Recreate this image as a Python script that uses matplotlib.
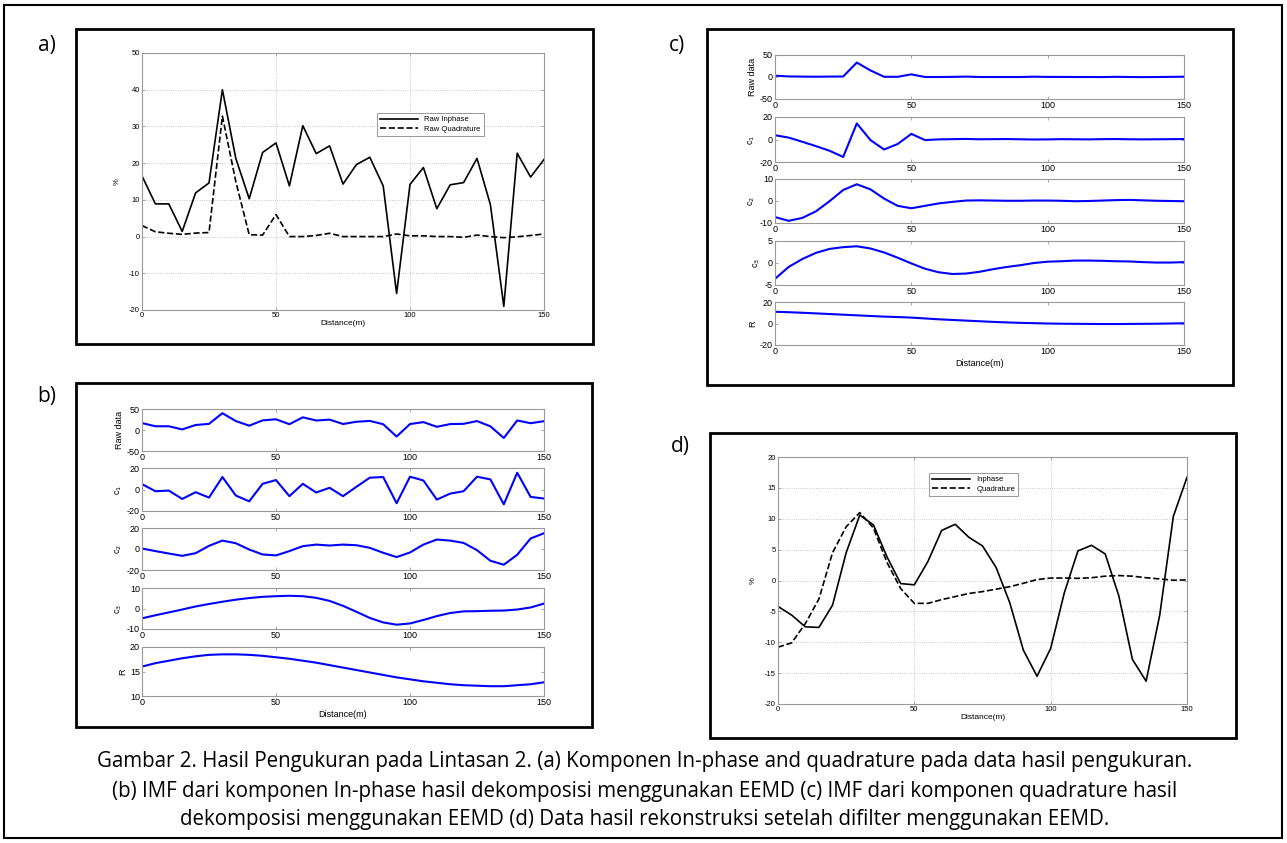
import matplotlib
matplotlib.use("Agg")
import matplotlib.pyplot as plt
from matplotlib.patches import Rectangle

plt.rcParams['font.family'] = ['Liberation Sans', 'DejaVu Sans']
plt.rcParams['axes.unicode_minus'] = False

# jarak (m)
dist = list(range(0, 155, 5))

# (a) data mentah
raw_inphase = [16.5, 8.9, 8.9, 1.4, 11.9, 14.6, 40.0, 21.3, 10.3, 22.9, 25.5, 13.8, 30.2, 22.6,
               24.7, 14.3, 19.6, 21.6, 13.8, -15.5, 14.2, 18.8, 7.6, 14.1, 14.7, 21.3, 8.7,
               -19.0, 22.7, 16.2, 21.0]
raw_quad = [3.0, 1.3, 0.9, 0.6, 0.95, 1.1, 32.8, 15.0, 0.5, 0.4, 6.0, 0.0, 0.0, 0.3, 0.9, 0.0,
            0.0, 0.0, 0.0, 0.7, 0.2, 0.2, 0.0, 0.0, -0.2, 0.4, 0.0, -0.3, -0.05, 0.3, 0.7]

# (b) IMF inphase
inp_c1 = [5.0, -1.6, -1.0, -8.8, -2.5, -7.5, 11.6, -5.6, -11.0, 5.3, 8.8, -6.2, 5.3, -2.8, 1.6,
          -6.2, 2.5, 11.0, 11.6, -12.8, 11.9, 8.4, -9.4, -3.8, -1.6, 11.9, 9.4, -13.8, 15.6,
          -6.9, -8.4]
inp_c2 = [0.5, -2.0, -4.3, -6.5, -4.0, 3.0, 8.0, 5.5, -0.5, -5.2, -6.1, -2.0, 2.7, 4.2, 3.3,
          4.2, 3.6, 1.1, -3.6, -7.7, -3.3, 4.2, 9.0, 8.0, 5.8, -1.1, -11.2, -15.0, -5.5, 10.0,
          15.0]
inp_c3 = [-4.8, -3.3, -1.9, -0.5, 1.0, 2.2, 3.3, 4.3, 5.1, 5.7, 6.0, 6.2, 6.0, 5.2, 3.7, 1.3,
          -1.6, -4.6, -6.8, -7.9, -7.3, -5.6, -3.7, -2.2, -1.4, -1.3, -1.1, -1.0, -0.5, 0.5, 2.4]
inp_r = [16.0, 16.7, 17.2, 17.7, 18.1, 18.4, 18.5, 18.5, 18.4, 18.2, 17.9, 17.6, 17.2, 16.8,
         16.3, 15.8, 15.3, 14.8, 14.3, 13.8, 13.4, 13.0, 12.7, 12.4, 12.2, 12.1, 12.0, 12.0,
         12.2, 12.4, 12.8]

# (c) IMF quadrature
quad_c1 = [3.8, 1.7, -2.0, -5.9, -10.0, -15.5, 14.3, -0.5, -8.9, -4.0, 5.0, -0.5, 0.1, 0.3,
           0.5, 0.2, 0.3, 0.4, 0.2, 0.0, 0.1, 0.3, 0.2, 0.1, 0.3, 0.4, 0.2, 0.1, 0.2, 0.3, 0.4]
quad_c2 = [-7.3, -9.0, -7.7, -4.7, -0.1, 5.0, 7.6, 5.3, 1.1, -2.2, -3.3, -2.2, -1.1, -0.4, 0.2,
           0.3, 0.2, 0.1, 0.1, 0.2, 0.2, 0.1, -0.1, 0.0, 0.2, 0.4, 0.5, 0.3, 0.1, 0.0, -0.1]
quad_c3 = [-3.6, -0.9, 0.9, 2.3, 3.2, 3.6, 3.8, 3.3, 2.4, 1.2, -0.1, -1.3, -2.1, -2.5, -2.4,
           -2.0, -1.4, -0.9, -0.5, 0.0, 0.3, 0.4, 0.55, 0.55, 0.5, 0.4, 0.35, 0.2, 0.1, 0.1, 0.2]
quad_r = [10.9, 10.5, 10.0, 9.4, 8.8, 8.2, 7.6, 7.0, 6.4, 6.0, 5.5, 4.7, 3.9, 3.3, 2.7, 2.1,
          1.5, 1.0, 0.6, 0.3, 0.0, -0.2, -0.3, -0.4, -0.5, -0.5, -0.4, -0.3, -0.2, 0.0, 0.2]

# (d) hasil rekonstruksi
rec_inphase = [-4.2, -5.6, -7.5, -7.6, -4.0, 4.5, 10.6, 9.0, 3.8, -0.5, -0.7, 3.1, 8.1, 9.1,
               7.0, 5.6, 2.1, -3.6, -11.3, -15.5, -11.0, -2.0, 4.8, 5.7, 4.3, -2.5, -12.8,
               -16.3, -5.6, 10.4, 16.7]
rec_quad = [-10.8, -10.1, -7.0, -3.0, 4.5, 8.7, 11.0, 8.5, 2.9, -1.3, -3.7, -3.7, -3.1, -2.6,
            -2.1, -1.8, -1.4, -1.0, -0.45, 0.15, 0.4, 0.4, 0.35, 0.45, 0.7, 0.8, 0.7, 0.45,
            0.25, 0.05, 0.1]

caption = ["Gambar 2. Hasil Pengukuran pada Lintasan 2. (a) Komponen In-phase and quadrature pada data hasil pengukuran.",
           "(b) IMF dari komponen In-phase hasil dekomposisi menggunakan EEMD (c) IMF dari komponen quadrature hasil",
           "dekomposisi menggunakan EEMD (d) Data hasil rekonstruksi setelah difilter menggunakan EEMD."]

W, H = 1287, 843
fig = plt.figure(figsize=(W / 100, H / 100), dpi=100)


def px_axes(x0, y0, x1, y1):
    # kotak dalam piksel (kiri, atas, kanan, bawah)
    return fig.add_axes([x0 / W, 1 - y1 / H, (x1 - x0) / W, (y1 - y0) / H])


def box(x0, y0, x1, y1, lw=2.0):
    fig.add_artist(Rectangle((x0 / W, 1 - y1 / H), (x1 - x0) / W, (y1 - y0) / H,
                             transform=fig.transFigure, fill=False, ec="black", lw=lw))


def matlab_style(ax, fs):
    for s in ax.spines.values():
        s.set_color("#999999")
        s.set_linewidth(0.8)
    ax.tick_params(direction="in", top=True, right=True, labelsize=fs, length=2.5,
                   width=0.6, color="#999999", pad=1.5)
    ax.set_xlim(0, 150)
    ax.set_xticks([0, 50, 100, 150])


# kotak luar dan kotak panel
box(4, 5, 1282, 838, lw=1.5)
box(76, 29, 593, 344)
box(76, 383, 592, 727)
box(707, 29, 1233, 385)
box(710, 433, 1236, 738)

lab_font = dict(fontsize=15, family="Open Sans", ha="center", va="center")
fig.text(47 / W, 1 - 46 / H, "a)", **lab_font)
fig.text(47 / W, 1 - 397 / H, "b)", **lab_font)
fig.text(677 / W, 1 - 46 / H, "c)", **lab_font)
fig.text(680 / W, 1 - 447 / H, "d)", **lab_font)

# panel (a)
ax = px_axes(142, 53, 544, 310)
ax.plot(dist, raw_inphase, "k-", lw=1.2, label="Raw Inphase")
ax.plot(dist, raw_quad, "k--", lw=1.2, label="Raw Quadrature")
matlab_style(ax, 5.5)
ax.set_ylim(-20, 50)
ax.grid(True, ls=":", color="#bbbbbb", lw=0.6)
ax.set_ylabel("%", fontsize=5.5, labelpad=6)
ax.set_xlabel("Distance(m)", fontsize=6, labelpad=1)
leg = ax.legend(loc="upper left", bbox_to_anchor=(0.575, 0.782), fontsize=5.5, fancybox=False,
                edgecolor="#888888", framealpha=1, borderpad=0.4, handlelength=5, labelspacing=0.3)
leg.get_frame().set_linewidth(0.6)

# panel (b) dan (c)
stack_b = [(409, 451), (468, 511), (528, 570), (588, 629), (647, 696)]
stack_c = [(55, 99), (117, 162), (179, 223), (241, 285), (302, 345)]
names = ["Raw data", "c$_1$", "c$_2$", "c$_3$", "R"]
series_b = [raw_inphase, inp_c1, inp_c2, inp_c3, inp_r]
series_c = [raw_quad, quad_c1, quad_c2, quad_c3, quad_r]
lims_b = [(-50, 50, [-50, 0, 50]), (-20, 20, [-20, 0, 20]), (-20, 20, [-20, 0, 20]),
          (-10, 10, [-10, 0, 10]), (10, 20, [10, 15, 20])]
lims_c = [(-50, 50, [-50, 0, 50]), (-20, 20, [-20, 0, 20]), (-10, 10, [-10, 0, 10]),
          (-5, 5, [-5, 0, 5]), (-20, 20, [-20, 0, 20])]

for (x0, x1), stack, series, lims in [((142, 544), stack_b, series_b, lims_b),
                                      ((775, 1184), stack_c, series_c, lims_c)]:
    for i, (t, b) in enumerate(stack):
        ax = px_axes(x0, t, x1, b)
        ax.plot(dist, series[i], color="#0000ff", lw=1.5)
        matlab_style(ax, 6.5)
        ax.set_ylim(lims[i][0], lims[i][1])
        ax.set_yticks(lims[i][2])
        ax.set_ylabel(names[i], fontsize=6.5, labelpad=2)
        if i == 4:
            ax.set_xlabel("Distance(m)", fontsize=6.5, labelpad=2)

# panel (d)
ax = px_axes(778, 457, 1187, 704)
ax.plot(dist, rec_inphase, "k-", lw=1.2, label="Inphase")
ax.plot(dist, rec_quad, "k--", lw=1.2, label="Quadrature")
matlab_style(ax, 5.5)
ax.set_ylim(-20, 20)
ax.set_yticks(range(-20, 25, 5))
ax.grid(True, ls=":", color="#bbbbbb", lw=0.6)
ax.set_ylabel("%", fontsize=5.5, labelpad=6)
ax.set_xlabel("Distance(m)", fontsize=6, labelpad=1)
leg = ax.legend(loc="upper left", bbox_to_anchor=(0.36, 0.951), fontsize=5.5, fancybox=False,
                edgecolor="#888888", framealpha=1, borderpad=0.4, handlelength=5, labelspacing=0.3)
leg.get_frame().set_linewidth(0.6)

# keterangan gambar
for y, line in zip([762, 791, 820], caption):
    fig.text(645 / W, 1 - y / H, line, fontsize=14.8, family="Open Sans",
             ha="center", va="center")

fig.savefig("out.png", dpi=100)
